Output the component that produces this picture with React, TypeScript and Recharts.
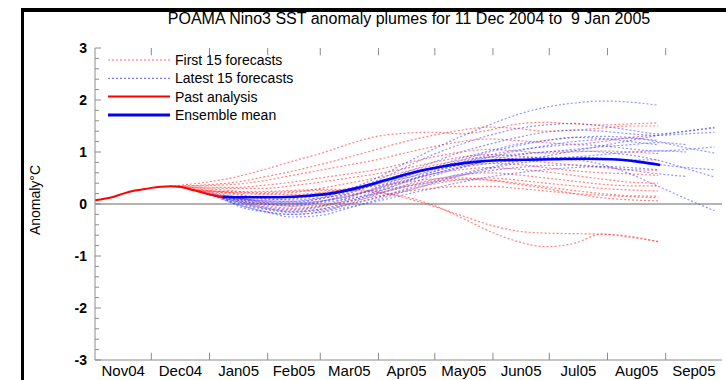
import React from 'react';
import { LineChart, Line, XAxis, YAxis, ReferenceLine, Legend } from 'recharts';

const FONT = '"Liberation Sans", Arial, Helvetica, sans-serif';
const AXIS = '#8c8c8c';

// x values are days counted from 1 Nov 2004
const monthStarts = [30, 61, 92, 120, 151, 181, 212, 242, 273, 304];
const monthMids = [15, 45.5, 76.5, 106, 135.5, 166, 196.5, 227, 257.5, 288.5, 319];
const monthLabels = ['Nov04', 'Dec04', 'Jan05', 'Feb05', 'Mar05', 'Apr05', 'May05', 'Jun05', 'Jul05', 'Aug05', 'Sep05'];
const yTicks = [-3, -2.8, -2.6, -2.4, -2.2, -2, -1.8, -1.6, -1.4, -1.2, -1, -0.8, -0.6, -0.4, -0.2, 0,
  0.2, 0.4, 0.6, 0.8, 1, 1.2, 1.4, 1.6, 1.8, 2, 2.2, 2.4, 2.6, 2.8, 3];

const pastDays = [0, 5, 10, 15, 20, 25, 30, 35, 40, 45, 50, 55, 60, 65, 69];
const pastValues = [0.07, 0.1, 0.14, 0.2, 0.25, 0.28, 0.31, 0.33, 0.34, 0.33, 0.29, 0.24, 0.19, 0.15, 0.12];

const meanDays = [68, 80, 95, 110, 125, 140, 155, 170, 185, 200, 215, 230, 245, 260, 275, 290, 301];
const meanValues = [0.14, 0.13, 0.13, 0.15, 0.2, 0.31, 0.46, 0.61, 0.72, 0.8, 0.84, 0.85, 0.86, 0.87, 0.86, 0.81, 0.75];

// first value of each forecast sits on its start day, the rest on these days
const forecastDays = [75, 90, 105, 120, 135, 150, 165, 180, 195, 210, 225, 240, 255, 270, 285, 300, 315, 330];

const firstStarts = [40, 41, 42, 43, 44, 45, 46, 47, 48, 49, 50, 51, 52, 53, 54];
const firstForecasts = [
  [0.34, 0.52, 0.66, 0.82, 0.97, 1.15, 1.3, 1.36, 1.38, 1.35, 1.42, 1.54, 1.57, 1.54, 1.52, 1.54, 1.56],
  [0.34, 0.42, 0.52, 0.63, 0.76, 0.9, 1.05, 1.2, 1.32, 1.42, 1.48, 1.45, 1.4, 1.42, 1.46, 1.5, 1.5],
  [0.34, 0.38, 0.45, 0.55, 0.65, 0.75, 0.85, 0.98, 1.1, 1.2, 1.25, 1.22, 1.18, 1.15, 1.2, 1.28, 1.32],
  [0.33, 0.32, 0.36, 0.42, 0.5, 0.58, 0.66, 0.78, 0.9, 1.0, 1.05, 1.02, 0.98, 1.0, 1.02, 1.0, 0.97],
  [0.33, 0.3, 0.3, 0.35, 0.42, 0.5, 0.58, 0.68, 0.8, 0.9, 0.95, 0.92, 0.88, 0.85, 0.86, 0.85, 0.85],
  [0.33, 0.25, 0.2, 0.22, 0.3, 0.4, 0.5, 0.62, 0.74, 0.84, 0.9, 0.86, 0.8, 0.75, 0.7, 0.66, 0.65],
  [0.32, 0.2, 0.12, 0.12, 0.2, 0.3, 0.42, 0.55, 0.66, 0.74, 0.78, 0.76, 0.7, 0.64, 0.6, 0.58, 0.55],
  [0.31, 0.14, 0.03, 0.0, 0.06, 0.16, 0.3, 0.45, 0.58, 0.66, 0.7, 0.67, 0.62, 0.55, 0.48, 0.42, 0.4],
  [0.31, 0.1, -0.02, -0.08, -0.04, 0.06, 0.2, 0.34, 0.47, 0.56, 0.6, 0.56, 0.5, 0.44, 0.38, 0.35, 0.35],
  [0.3, 0.08, -0.06, -0.14, -0.1, 0.0, 0.12, 0.26, 0.38, 0.47, 0.5, 0.46, 0.4, 0.35, 0.3, 0.27, 0.25],
  [0.29, 0.18, 0.1, 0.08, 0.12, 0.18, 0.26, 0.34, 0.42, 0.47, 0.46, 0.4, 0.33, 0.26, 0.2, 0.16, 0.15],
  [0.28, 0.22, 0.18, 0.18, 0.22, 0.28, 0.35, 0.42, 0.48, 0.5, 0.46, 0.38, 0.3, 0.2, 0.12, 0.08, 0.06],
  [0.27, 0.12, 0.02, -0.04, -0.02, 0.05, 0.15, 0.24, 0.3, 0.34, 0.34, 0.3, 0.25, 0.2, 0.17, 0.14, 0.12],
  [0.26, 0.24, 0.24, 0.26, 0.28, 0.28, 0.24, 0.12, -0.04, -0.22, -0.4, -0.52, -0.56, -0.57, -0.58, -0.64, -0.72],
  [0.25, 0.22, 0.22, 0.24, 0.26, 0.26, 0.22, 0.14, -0.02, -0.26, -0.52, -0.72, -0.82, -0.76, -0.58, -0.62, -0.73],
];

const latestStarts = [55, 56, 57, 58, 59, 60, 61, 62, 63, 64, 65, 66, 67, 68, 69];
const latestForecasts = [
  [0.24, 0.12, 0.06, 0.05, 0.12, 0.28, 0.5, 0.78, 1.05, 1.3, 1.52, 1.72, 1.86, 1.94, 1.98, 1.96, 1.9],
  [0.23, 0.1, 0.03, 0.02, 0.1, 0.25, 0.45, 0.7, 0.95, 1.15, 1.32, 1.45, 1.52, 1.55, 1.5, 1.42, 1.35, 1.4, 1.48],
  [0.22, 0.08, 0.0, -0.04, 0.04, 0.2, 0.4, 0.6, 0.8, 1.0, 1.15, 1.28, 1.38, 1.42, 1.4, 1.35, 1.32, 1.35, 1.38],
  [0.21, 0.06, -0.05, -0.1, -0.04, 0.12, 0.32, 0.52, 0.7, 0.88, 1.02, 1.15, 1.22, 1.28, 1.3, 1.28, 1.2, 1.14],
  [0.2, 0.05, -0.08, -0.15, -0.1, 0.04, 0.22, 0.42, 0.62, 0.8, 0.94, 1.04, 1.1, 1.14, 1.12, 1.06, 1.02, 1.05, 1.1],
  [0.19, 0.12, 0.06, 0.05, 0.1, 0.22, 0.38, 0.54, 0.68, 0.8, 0.9, 0.96, 1.0, 1.05, 1.1, 1.14, 1.18, 1.08, 0.98],
  [0.18, 0.0, -0.14, -0.2, -0.15, 0.0, 0.18, 0.36, 0.54, 0.7, 0.84, 0.94, 1.0, 1.02, 1.0, 0.94, 0.84, 0.68, 0.52],
  [0.18, 0.04, -0.08, -0.12, -0.06, 0.08, 0.24, 0.42, 0.58, 0.72, 0.82, 0.88, 0.9, 0.86, 0.76, 0.58, 0.34, 0.1, -0.13],
  [0.17, 0.1, 0.05, 0.02, 0.05, 0.14, 0.28, 0.44, 0.58, 0.7, 0.78, 0.84, 0.88, 0.9, 0.88, 0.82, 0.76, 0.7, 0.66],
  [0.16, 0.0, -0.14, -0.25, -0.22, -0.08, 0.08, 0.24, 0.4, 0.55, 0.68, 0.78, 0.85, 0.9, 0.95, 1.0, 1.02, 1.0],
  [0.15, 0.08, 0.0, -0.02, 0.02, 0.1, 0.2, 0.32, 0.45, 0.58, 0.7, 0.82, 0.92, 1.02, 1.12, 1.22, 1.32, 1.4, 1.46],
  [0.14, 0.02, -0.1, -0.16, -0.12, -0.02, 0.12, 0.28, 0.42, 0.55, 0.64, 0.7, 0.74, 0.75, 0.72, 0.65, 0.58, 0.53],
  [0.14, 0.1, 0.08, 0.1, 0.16, 0.26, 0.38, 0.5, 0.62, 0.76, 0.9, 1.02, 1.12, 1.2, 1.24, 1.26, 1.22],
  [0.13, -0.02, -0.15, -0.2, -0.16, -0.06, 0.05, 0.18, 0.3, 0.42, 0.52, 0.6, 0.66, 0.7, 0.72, 0.7, 0.66],
  [0.12, 0.05, 0.0, 0.0, 0.05, 0.15, 0.3, 0.48, 0.66, 0.84, 1.0, 1.12, 1.22, 1.28, 1.26, 1.2, 1.14],
];

const toPoints = (days: number[], values: number[]) => values.map((v, i) => ({ day: days[i], value: v }));
const forecastPoints = (start: number, values: number[]) => toPoints([start, ...forecastDays], values);

const legendItems = [
  { label: 'First 15 forecasts', color: '#ff6a6a', width: 1.2, dash: '2 2' },
  { label: 'Latest 15 forecasts', color: '#7a7aff', width: 1.2, dash: '2 2' },
  { label: 'Past analysis', color: '#ff0000', width: 2, dash: undefined },
  { label: 'Ensemble mean', color: '#0000ff', width: 3, dash: undefined },
];

const LegendBox = () => (
  <svg width={230} height={76}>
    {legendItems.map((it, i) => (
      <g key={it.label}>
        <line x1={8} x2={70} y1={10 + i * 18.3} y2={10 + i * 18.3} stroke={it.color} strokeWidth={it.width} strokeDasharray={it.dash} />
        <text x={75} y={10 + i * 18.3} dy="0.35em" fontSize={14} fontFamily={FONT} fill="#000">{it.label}</text>
      </g>
    ))}
  </svg>
);

const MonthTick = ({ x, y, payload }: any) => {
  const i = monthMids.indexOf(payload.value);
  return <text x={x} y={y + 16} textAnchor="middle" fontSize={15} fontFamily={FONT} fill="#000">{monthLabels[i]}</text>;
};

const LeftTick = ({ x, y, payload }: any) => {
  const major = Number.isInteger(payload.value);
  return (
    <g>
      <line x1={x} y1={y} x2={x + (major ? 6 : 4)} y2={y} stroke={AXIS} />
      {major && (
        <text x={x - 8} y={y} dy="0.36em" textAnchor="end" fontSize={14} fontWeight="bold" fontFamily={FONT} fill="#000">
          {payload.value}
        </text>
      )}
    </g>
  );
};

const RightTick = ({ x, y, payload }: any) => {
  const major = Number.isInteger(payload.value);
  return <line x1={x} y1={y} x2={x - (major ? 6 : 4)} y2={y} stroke={AXIS} />;
};

export default function App() {
  return (
    <div style={{ position: 'fixed', left: 0, top: 0, width: 726, height: 380, background: '#fff', overflow: 'hidden' }}>
      <div style={{ position: 'absolute', left: 21, top: 8, width: 705, height: 369, borderLeft: '3px solid #000', borderTop: '4px solid #000', borderBottom: '2px solid #000' }} />
      <div style={{ position: 'absolute', left: 100, top: 10, width: 618, textAlign: 'center', fontFamily: FONT, fontSize: 16, lineHeight: '18px', color: '#000' }}>
        POAMA Nino3 SST anomaly plumes for 11 Dec 2004 to&nbsp; 9 Jan 2005
      </div>
      <div style={{ position: 'absolute', left: 35, top: 200, transform: 'translate(-50%, -50%) rotate(-90deg)', fontFamily: FONT, fontSize: 14, whiteSpace: 'nowrap', color: '#000' }}>
        Anomaly°C
      </div>
      <div style={{ position: 'absolute', left: 0, top: 0 }}>
        <LineChart width={726} height={380} margin={{ top: 48, right: 4, left: 0, bottom: 0 }}>
          <XAxis xAxisId="bottom" dataKey="day" type="number" domain={[0, 334]} allowDataOverflow ticks={monthMids} interval={0}
            tick={<MonthTick />} tickLine={false} tickSize={0} tickMargin={0} height={20} axisLine={{ stroke: AXIS }} />
          <XAxis xAxisId="top" orientation="top" dataKey="day" type="number" domain={[0, 334]} allowDataOverflow ticks={[]}
            tick={false} tickLine={false} height={0} axisLine={{ stroke: AXIS }} />
          <YAxis yAxisId="left" type="number" domain={[-3, 3]} allowDataOverflow ticks={yTicks} interval={0}
            tick={<LeftTick />} tickLine={false} tickSize={0} tickMargin={0} width={95} axisLine={{ stroke: AXIS }} />
          <YAxis yAxisId="right" orientation="right" type="number" domain={[-3, 3]} allowDataOverflow ticks={yTicks} interval={0}
            tick={<RightTick />} tickLine={false} tickSize={0} tickMargin={0} width={0} axisLine={{ stroke: AXIS }} />
          <ReferenceLine xAxisId="bottom" yAxisId="left" y={0} stroke="#9a9a9a" strokeWidth={1.5} />
          {monthStarts.map((d) => (
            <ReferenceLine key={`b${d}`} xAxisId="bottom" yAxisId="left" stroke={AXIS}
              segment={[{ x: d, y: -3 }, { x: d, y: -2.86 }]} />
          ))}
          {monthStarts.map((d) => (
            <ReferenceLine key={`t${d}`} xAxisId="bottom" yAxisId="left" stroke={AXIS}
              segment={[{ x: d, y: 3 }, { x: d, y: 2.86 }]} />
          ))}
          <Legend layout="horizontal" verticalAlign="middle" align="center" content={<LegendBox />}
            wrapperStyle={{ position: 'absolute', left: 100, top: 50, width: 230, height: 76 }} />
          {firstForecasts.map((vals, i) => (
            <Line key={`f${i}`} xAxisId="bottom" yAxisId="left" data={forecastPoints(firstStarts[i], vals)} dataKey="value"
              type="monotone" stroke="#ff3030" strokeOpacity={0.6} strokeWidth={1.2} strokeDasharray="2 2"
              dot={false} activeDot={false} legendType="none" isAnimationActive={false} />
          ))}
          {latestForecasts.map((vals, i) => (
            <Line key={`l${i}`} xAxisId="bottom" yAxisId="left" data={forecastPoints(latestStarts[i], vals)} dataKey="value"
              type="monotone" stroke="#3c3cff" strokeOpacity={0.55} strokeWidth={1.2} strokeDasharray="2 2"
              dot={false} activeDot={false} legendType="none" isAnimationActive={false} />
          ))}
          <Line xAxisId="bottom" yAxisId="left" data={toPoints(pastDays, pastValues)} dataKey="value" type="monotone"
            stroke="#ff0000" strokeWidth={2} dot={false} activeDot={false} isAnimationActive={false} />
          <Line xAxisId="bottom" yAxisId="left" data={toPoints(meanDays, meanValues)} dataKey="value" type="monotone"
            stroke="#0000ff" strokeWidth={2.6} dot={false} activeDot={false} isAnimationActive={false} />
        </LineChart>
      </div>
    </div>
  );
}
